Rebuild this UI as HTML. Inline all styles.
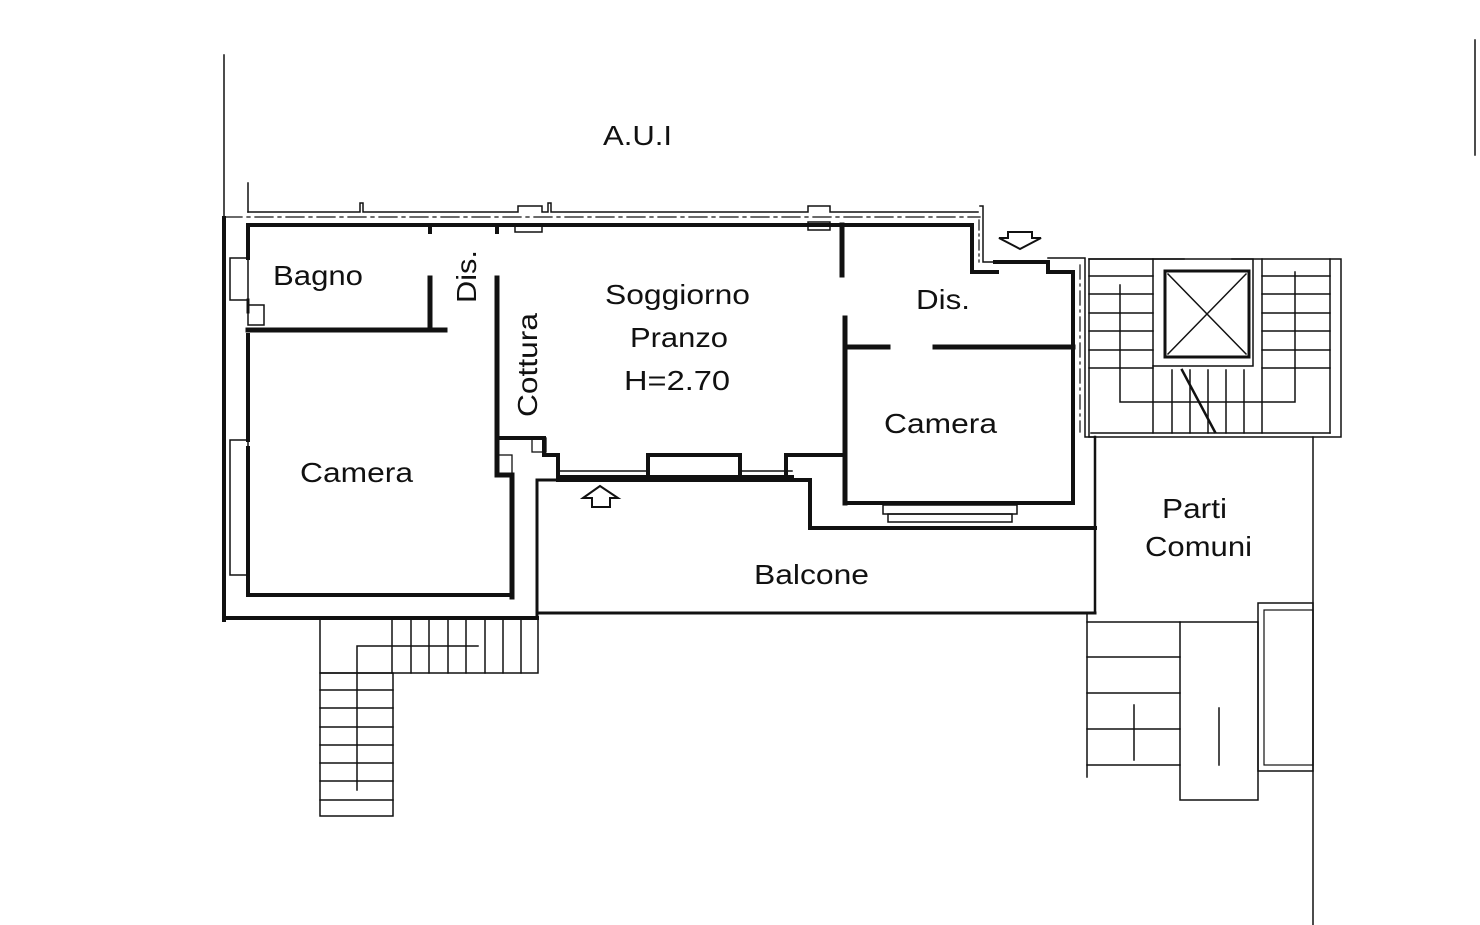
<!DOCTYPE html>
<html><head><meta charset="utf-8"><style>
html,body{margin:0;padding:0;background:#fff;width:1480px;height:925px;overflow:hidden}
svg{display:block}
text{font-family:"Liberation Sans",sans-serif;fill:#111;font-size:28px}
</style></head><body>
<svg width="1480" height="925" viewBox="0 0 1480 925" xmlns="http://www.w3.org/2000/svg">
<g stroke="#111" fill="none" stroke-linecap="square">
<line x1="224" y1="55" x2="224" y2="218" stroke-width="1.5"/>
<line x1="248" y1="183" x2="248" y2="212" stroke-width="1.5"/>
<line x1="1475" y1="40" x2="1475" y2="155" stroke-width="1.5"/>
<polyline points="248,212 360,212 360,203 363,203 363,212 518,212 518,206 542,206 542,212 548,212 548,203 551,203 551,212 808,212 808,206 830,206 830,212 978,212" stroke-width="1.5"/>
<line x1="224" y1="217" x2="980" y2="217" stroke-width="1.3" stroke-dasharray="18,5,3,5"/>
<line x1="248" y1="225" x2="972" y2="225" stroke-width="4"/>
<rect x="515" y="225" width="27" height="7" stroke-width="1.5"/>
<rect x="808" y="222" width="22" height="8" stroke-width="1.5"/>
<line x1="430" y1="225" x2="430" y2="232" stroke-width="4"/>
<line x1="497" y1="225" x2="497" y2="232" stroke-width="4"/>
<line x1="972" y1="225" x2="972" y2="272" stroke-width="4"/>
<polyline points="980,206 983,206 983,262 995,262" stroke-width="1.5"/>
<line x1="979" y1="220" x2="979" y2="262" stroke-width="1.2" stroke-dasharray="10,4,2,4"/>
<line x1="972" y1="272" x2="997" y2="272" stroke-width="4"/>
<line x1="995" y1="262" x2="1048" y2="262" stroke-width="4"/>
<polyline points="1048,262 1048,272 1073,272 1073,503" stroke-width="4"/>
<polyline points="1048,258 1085,258 1085,437 1095,437" stroke-width="1.5"/>
<line x1="1080" y1="265" x2="1080" y2="432" stroke-width="1.2" stroke-dasharray="14,5,2,5"/>
<line x1="224" y1="218" x2="224" y2="620" stroke-width="4"/>
<line x1="248" y1="225" x2="248" y2="258" stroke-width="4"/>
<line x1="248" y1="300" x2="248" y2="312" stroke-width="3"/>
<line x1="248" y1="335" x2="248" y2="440" stroke-width="4"/>
<line x1="248" y1="448" x2="248" y2="595" stroke-width="4"/>
<rect x="230" y="258" width="18" height="42" stroke-width="1.5"/>
<rect x="230" y="440" width="18" height="135" stroke-width="1.5"/>
<rect x="248" y="305" width="16" height="20" stroke-width="1.5"/>
<line x1="248" y1="330" x2="445" y2="330" stroke-width="5"/>
<line x1="430" y1="278" x2="430" y2="330" stroke-width="5"/>
<polyline points="497,278 497,475 512,475 512,597" stroke-width="5"/>
<polyline points="497,438 544,438 544,455 558,455 558,477" stroke-width="4"/>
<rect x="532" y="438" width="14" height="14" stroke-width="1.3"/>
<rect x="497" y="455" width="15" height="20" stroke-width="1.3"/>
<line x1="248" y1="595" x2="512" y2="595" stroke-width="4"/>
<line x1="224" y1="618" x2="537" y2="618" stroke-width="4"/>
<polyline points="537,615 537,480 558,480" stroke-width="3"/>
<line x1="558" y1="477" x2="792" y2="477" stroke-width="4"/>
<line x1="558" y1="471" x2="648" y2="471" stroke-width="1.5"/>
<polyline points="648,477 648,455 740,455 740,477" stroke-width="4"/>
<line x1="740" y1="471" x2="792" y2="471" stroke-width="1.5"/>
<polyline points="786,477 786,455 842,455" stroke-width="4"/>
<polyline points="558,480 810,480 810,528 1095,528" stroke-width="4"/>
<line x1="537" y1="613" x2="1095" y2="613" stroke-width="3"/>
<line x1="1095" y1="437" x2="1095" y2="613" stroke-width="2.5"/>
<line x1="842" y1="225" x2="842" y2="275" stroke-width="5"/>
<line x1="845" y1="318" x2="845" y2="503" stroke-width="5"/>
<line x1="845" y1="347" x2="888" y2="347" stroke-width="5"/>
<line x1="935" y1="347" x2="1073" y2="347" stroke-width="5"/>
<line x1="845" y1="503" x2="1073" y2="503" stroke-width="4"/>
<rect x="883" y="505" width="134" height="9" stroke-width="1.5"/>
<rect x="888" y="514" width="124" height="8" stroke-width="1.5"/>
<polygon points="583,498 600,486 618,498 610,498 610,507 592,507 592,498" stroke-width="2"/>
<polygon points="1008,232 1032,232 1032,238 1041,238 1020,249 999,238 1008,238" stroke-width="2"/>
<g stroke-width="1.5">
<rect x="1089" y="259" width="252" height="178"/>
<polyline points="1089,259 1153,259 1153,366 1253,366 1253,259 1232,259"/>
<line x1="1153" y1="259" x2="1184" y2="259"/>
<rect x="1165" y="271" width="84" height="86" stroke-width="3"/>
<line x1="1168" y1="274" x2="1246" y2="354"/><line x1="1246" y1="274" x2="1168" y2="354"/>
<line x1="1089" y1="276" x2="1153" y2="276"/><line x1="1089" y1="294" x2="1153" y2="294"/><line x1="1089" y1="313" x2="1153" y2="313"/><line x1="1089" y1="331" x2="1153" y2="331"/><line x1="1089" y1="350" x2="1153" y2="350"/><line x1="1089" y1="368" x2="1153" y2="368"/>
<line x1="1262" y1="276" x2="1330" y2="276"/><line x1="1262" y1="294" x2="1330" y2="294"/><line x1="1262" y1="313" x2="1330" y2="313"/><line x1="1262" y1="331" x2="1330" y2="331"/><line x1="1262" y1="350" x2="1330" y2="350"/><line x1="1262" y1="368" x2="1330" y2="368"/>
<line x1="1262" y1="259" x2="1262" y2="433"/><line x1="1330" y1="259" x2="1330" y2="433"/>
<line x1="1153" y1="366" x2="1153" y2="433"/><line x1="1172" y1="370" x2="1172" y2="433"/><line x1="1190" y1="370" x2="1190" y2="433"/><line x1="1208" y1="370" x2="1208" y2="433"/><line x1="1226" y1="370" x2="1226" y2="433"/><line x1="1244" y1="370" x2="1244" y2="433"/>
<line x1="1091" y1="433" x2="1330" y2="433"/>
<polyline points="1120,285 1120,402 1295,402 1295,272"/>
<line x1="1182" y1="370" x2="1215" y2="432" stroke-width="2.5"/>
</g>
<line x1="1313" y1="437" x2="1313" y2="925" stroke-width="1.5"/>
<rect x="1258" y="603" width="55" height="168" stroke-width="1.5"/>
<rect x="1264" y="610" width="49" height="155" stroke-width="1.2"/>
<g stroke-width="1.5">
<line x1="1087" y1="615" x2="1087" y2="777"/>
<line x1="1087" y1="622" x2="1180" y2="622"/><line x1="1087" y1="657" x2="1180" y2="657"/><line x1="1087" y1="693" x2="1180" y2="693"/><line x1="1087" y1="729" x2="1180" y2="729"/><line x1="1087" y1="765" x2="1180" y2="765"/>
<rect x="1180" y="622" width="78" height="178"/>
<line x1="1134" y1="705" x2="1134" y2="760"/><line x1="1219" y1="708" x2="1219" y2="765"/>
</g>
<g stroke-width="1.5">
<rect x="320" y="618" width="218" height="55"/>
<rect x="320" y="673" width="73" height="143"/>
<line x1="392" y1="618" x2="392" y2="673"/><line x1="411" y1="618" x2="411" y2="673"/><line x1="429" y1="618" x2="429" y2="673"/><line x1="448" y1="618" x2="448" y2="673"/><line x1="466" y1="618" x2="466" y2="673"/><line x1="485" y1="618" x2="485" y2="673"/><line x1="503" y1="618" x2="503" y2="673"/><line x1="521" y1="618" x2="521" y2="673"/>
<line x1="320" y1="690" x2="393" y2="690"/><line x1="320" y1="708" x2="393" y2="708"/><line x1="320" y1="727" x2="393" y2="727"/><line x1="320" y1="745" x2="393" y2="745"/><line x1="320" y1="763" x2="393" y2="763"/><line x1="320" y1="781" x2="393" y2="781"/><line x1="320" y1="800" x2="393" y2="800"/>
<polyline points="478,646 357,646 357,790"/>
</g>
</g>
<text x="603" y="145" textLength="69" lengthAdjust="spacingAndGlyphs">A.U.I</text>
<text x="273" y="285" textLength="90" lengthAdjust="spacingAndGlyphs">Bagno</text>
<text x="0" y="0" transform="translate(476,303) rotate(-90)" textLength="53" lengthAdjust="spacingAndGlyphs">Dis.</text>
<text x="0" y="0" transform="translate(537,417) rotate(-90)" textLength="104" lengthAdjust="spacingAndGlyphs">Cottura</text>
<text x="605" y="304" textLength="145" lengthAdjust="spacingAndGlyphs">Soggiorno</text>
<text x="630" y="347" textLength="98" lengthAdjust="spacingAndGlyphs">Pranzo</text>
<text x="624" y="390" textLength="106" lengthAdjust="spacingAndGlyphs">H=2.70</text>
<text x="916" y="309" textLength="54" lengthAdjust="spacingAndGlyphs">Dis.</text>
<text x="884" y="433" textLength="113" lengthAdjust="spacingAndGlyphs">Camera</text>
<text x="300" y="482" textLength="113" lengthAdjust="spacingAndGlyphs">Camera</text>
<text x="1162" y="518" textLength="65" lengthAdjust="spacingAndGlyphs">Parti</text>
<text x="1145" y="556" textLength="107" lengthAdjust="spacingAndGlyphs">Comuni</text>
<text x="754" y="584" textLength="115" lengthAdjust="spacingAndGlyphs">Balcone</text>
</svg>
</body></html>
